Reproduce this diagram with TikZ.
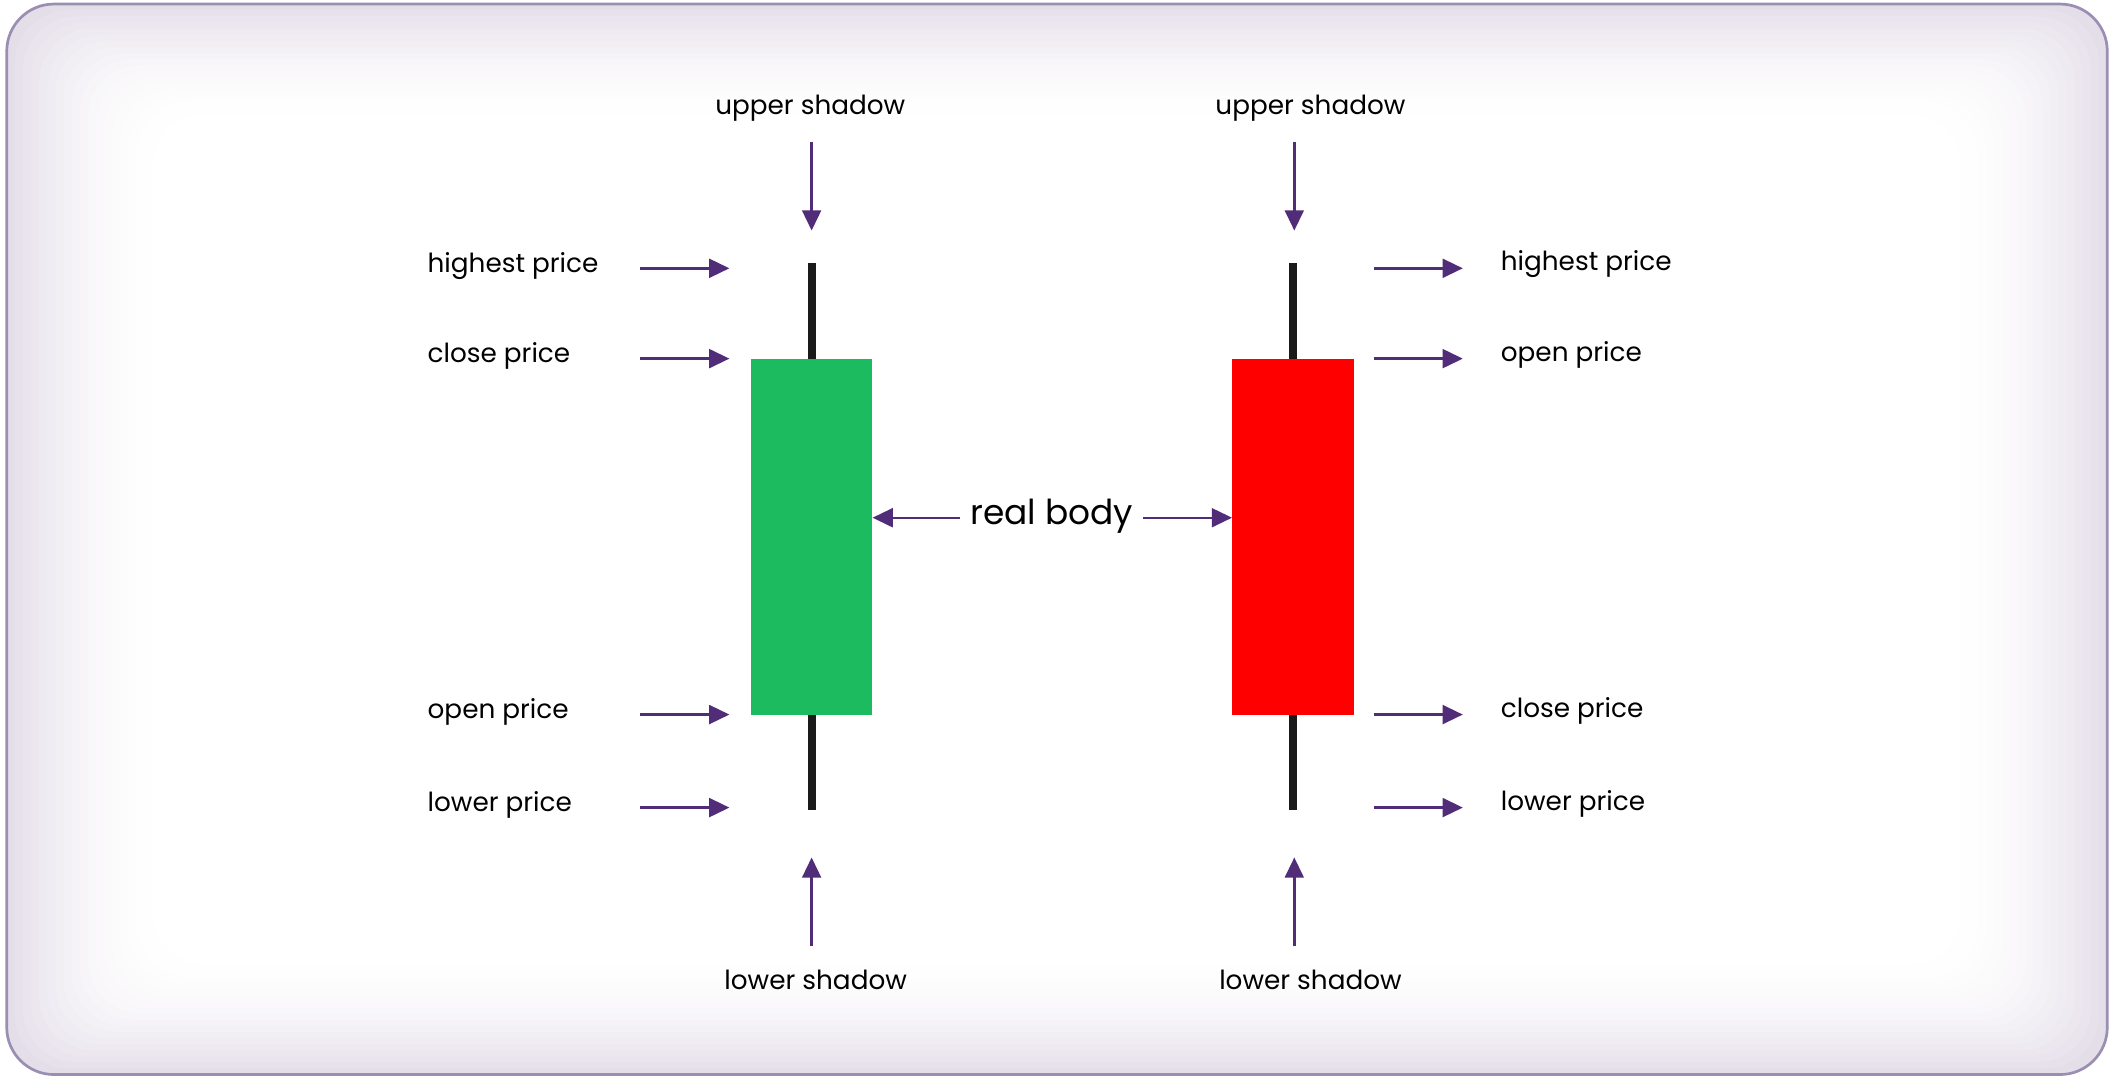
\documentclass[tikz,border=0pt]{standalone}
\usepackage{fontspec}
\setmainfont{Poppins}
\usetikzlibrary{arrows.meta}
\definecolor{arr}{HTML}{512C78}
\definecolor{frame}{HTML}{9A8FB2}
\definecolor{lav}{HTML}{E4DEE9}
\definecolor{grn}{HTML}{1DBB60}
\definecolor{wick}{HTML}{1A1A1A}
\begin{document}
\begin{tikzpicture}[x=1pt,y=-1pt,
  ar/.style={draw=arr,line width=1.8pt,-{Triangle[length=15pt,width=14pt]}},
  lbl/.style={font=\fontsize{19.5}{22}\selectfont,inner sep=0pt},
  lbll/.style={lbl,anchor=west}]
\useasboundingbox (0,0) rectangle (1568,800);
% background
\fill[lav,rounded corners=35pt] (5,3) rectangle (1563,797);
\foreach \i in {1,...,20}{
  \pgfmathsetmacro{\m}{100*(1-(1-\i/20)^2)}
  \fill[white!\m!lav,rounded corners=40pt] (5+\i*6,3+\i*4.5) rectangle (1563-\i*6,797-\i*4.5);
}
\draw[frame,line width=2pt,rounded corners=35pt] (5,3) rectangle (1563,797);
% candles
\draw[wick,line width=6pt] (602,195) -- (602,601);
\draw[wick,line width=6pt] (959,195) -- (959,601);
\node[fill=grn,minimum width=90pt,minimum height=264pt,inner sep=0pt] (g) at (602,398) {};
\node[fill=red,minimum width=90pt,minimum height=264pt,inner sep=0pt] (r) at (959,398) {};
% left labels
\foreach \y/\t/\n in {199/highest price/la,266/close price/lb,530/open price/lc,599/lower price/ld}{
  \node[lbll] (\n) at (317,\y-2) {\t};
  \coordinate (\n s) at (475,\y);
  \coordinate (\n e) at (541,\y);
  \draw[ar] (\n s) -- (\n e);
}
\foreach \y/\t/\n in {199/highest price/ra,266/open price/rb,530/close price/rc,599/lower price/rd}{
  \node[lbll] (\n) at (1113,\y-3) {\t};
  \coordinate (\n s) at (1019,\y);
  \coordinate (\n e) at (1085,\y);
  \draw[ar] (\n s) -- (\n e);
}
% shadows
\node[lbl] (us1) at (601,80) {upper shadow};
\node[lbl] (us2) at (972,80) {upper shadow};
\node[lbl] (ls1) at (605,727) {lower shadow};
\node[lbl] (ls2) at (972,727) {lower shadow};
\coordinate (a1) at (602,105); \coordinate (b1) at (602,171);
\coordinate (a2) at (960,105); \coordinate (b2) at (960,171);
\coordinate (c1) at (602,702); \coordinate (d1) at (602,636);
\coordinate (c2) at (960,702); \coordinate (d2) at (960,636);
\draw[ar] (a1) -- (b1); \draw[ar] (a2) -- (b2);
\draw[ar] (c1) -- (d1); \draw[ar] (c2) -- (d2);
% real body
\node[font=\fontsize{25.5}{28}\selectfont,inner sep=0pt] (rb) at (780,383) {real body};
\coordinate (rb1) at (712,384); \coordinate (rb2) at (848,384);
\draw[ar] (rb1) -- (g.east |- rb1);
\draw[ar] (rb2) -- (r.west |- rb2);
\end{tikzpicture}
\end{document}
